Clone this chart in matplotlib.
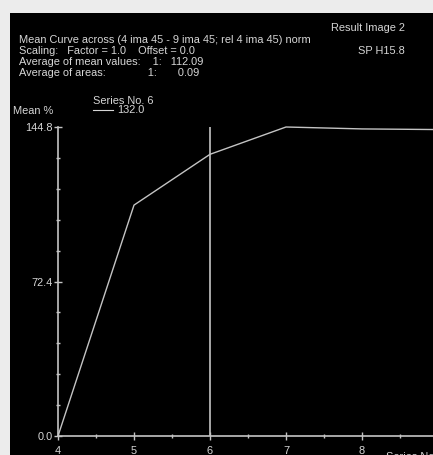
import matplotlib
matplotlib.use('Agg')
import matplotlib.pyplot as plt
from matplotlib.ticker import FixedLocator

# mean curve, series no. 6
series_no = [4, 5, 6, 7, 8, 9]
mean_pct = [0.0, 108.2, 132.0, 144.8, 143.9, 143.6]
y_major = [0.0, 72.4, 144.8]
y_minor = [14.48 * i for i in range(1, 10) if i != 5]
x_major = [4, 5, 6, 7, 8]
x_minor = [4.5, 5.5, 6.5, 7.5, 8.5]
cursor_x = 6

header_lines = [
    "Mean Curve across (4 ima 45 - 9 ima 45; rel 4 ima 45) norm",
    "Scaling:   Factor = 1.0    Offset = 0.0",
    "Average of mean values:    1:   112.09",
    "Average of areas:              1:       0.09",
]

W, H = 433, 455
FG = '#d6d6d6'
LINE = '#c4c4c4'
plt.rcParams['font.family'] = ['Liberation Sans', 'DejaVu Sans']
fs = 7.9

fig = plt.figure(figsize=(W / 100, H / 100), dpi=100)
fig.patch.set_facecolor('#ececec')


def fx(px):
    return px / W


def fy(py):
    return 1 - py / H


# black panel
bg = fig.add_axes([fx(10), 0, 1 - fx(10), fy(13)])
bg.set_facecolor('black')
bg.set_xticks([])
bg.set_yticks([])
for s in bg.spines.values():
    s.set_visible(False)

# plot area: x=4 at px 58, 76 px per unit; y=0 at px 436, 144.8 at px 127
left, right, bot, top = 58, 433, 436, 118
ax = fig.add_axes([fx(left), fy(bot), fx(right) - fx(left), fy(top) - fy(bot)])
ax.set_facecolor('none')
ax.set_xlim(4, 4 + (right - left) / 76)
ax.set_ylim(0, 144.8 * (bot - top) / (bot - 127))

ax.plot(series_no, mean_pct, color=LINE, lw=1.0)
ax.vlines(cursor_x, 0, 144.8, color=LINE, lw=1.2)

for s in ['top', 'right']:
    ax.spines[s].set_visible(False)
ax.spines['left'].set_bounds(0, 144.8)
for s in ['left', 'bottom']:
    ax.spines[s].set_color(LINE)
    ax.spines[s].set_linewidth(1.2)

ax.xaxis.set_major_locator(FixedLocator(x_major))
ax.xaxis.set_minor_locator(FixedLocator(x_minor))
ax.yaxis.set_major_locator(FixedLocator(y_major))
ax.yaxis.set_minor_locator(FixedLocator(y_minor))
ax.set_xticklabels([str(v) for v in x_major])
ax.set_yticklabels([f"{v:.1f}" for v in y_major])
ax.tick_params(which='major', direction='inout', length=6, width=1.0,
               colors=LINE, labelcolor=FG, labelsize=fs, pad=1)
ax.tick_params(which='minor', direction='inout', length=3, width=1.0, colors=LINE)
ax.tick_params(axis='x', which='major', pad=4)

# header texts
fig.text(fx(19), fy(40), header_lines[0], color=FG, fontsize=fs, va='center')
fig.text(fx(19), fy(51), header_lines[1], color=FG, fontsize=fs, va='center')
fig.text(fx(19), fy(62), header_lines[2], color=FG, fontsize=fs, va='center')
fig.text(fx(19), fy(73), header_lines[3], color=FG, fontsize=fs, va='center')
fig.text(fx(405), fy(28), "Result Image 2", color=FG, fontsize=fs, va='center', ha='right')
fig.text(fx(405), fy(51), "SP H15.8", color=FG, fontsize=fs, va='center', ha='right')

# legend and axis titles
fig.text(fx(93), fy(101), "Series No. 6", color=FG, fontsize=fs, va='center')
fig.lines.append(plt.Line2D([fx(93), fx(113)], [fy(110), fy(110)],
                            transform=fig.transFigure, color=FG, lw=0.8))
fig.text(fx(117), fy(110), "132.0", color=FG, fontsize=fs, va='center')
fig.text(fx(13), fy(111), "Mean %", color=FG, fontsize=fs, va='center')
fig.text(fx(386), fy(452), "Series No.", color=FG, fontsize=fs, va='top')

fig.savefig('out.png', dpi=100, facecolor=fig.get_facecolor())
